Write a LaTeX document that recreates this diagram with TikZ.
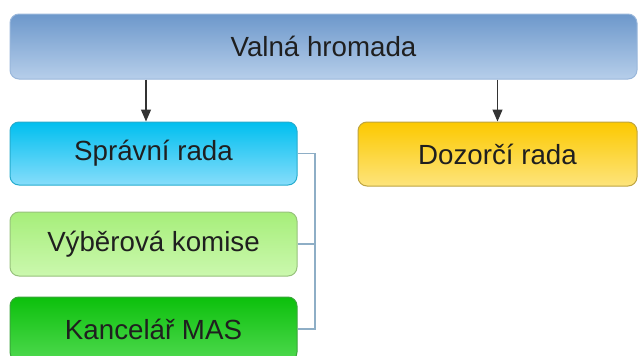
\documentclass[tikz,border=0pt]{standalone}
\usepackage{fontspec}
\setmainfont{Liberation Sans}
\usetikzlibrary{arrows.meta}

\definecolor{valnatop}{HTML}{6D98CB}
\definecolor{valnabot}{HTML}{B6CEEA}
\definecolor{spravtop}{HTML}{00BFEF}
\definecolor{spravbot}{HTML}{86DDFB}
\definecolor{dozortop}{HTML}{FCC900}
\definecolor{dozorbot}{HTML}{FDE47C}
\definecolor{vybertop}{HTML}{A6EE7A}
\definecolor{vyberbot}{HTML}{CBF8AE}
\definecolor{kanctop}{HTML}{0CC00C}
\definecolor{kancbot}{HTML}{4FD94F}
\definecolor{linkcol}{HTML}{8EAEC6}

\tikzset{
  unit/.style={rectangle, rounded corners=9pt, draw=#1, line width=1pt,
    inner sep=0pt, text=black!88, font=\fontsize{27.7}{30}\selectfont},
  link/.style={draw=linkcol, line width=1.6pt},
  down/.style={draw=black!80, line width=1.2pt, -{Triangle[length=12pt, width=10pt]}}
}

\begin{document}
\begin{tikzpicture}[x=1pt, y=-1pt]
    \useasboundingbox (0, 0) rectangle (638, 356);
    \clip (0, 0) rectangle (638, 356);
    \fill[white] (0, 0) rectangle (638, 356);
    % boxes
    \node[unit=valnatop!70!white, top color=valnatop, bottom color=valnabot,
      minimum width=627pt, minimum height=65pt] (valna) at (323.5, 46.5) {Valná hromada};
    \node[unit=spravtop!70!gray, top color=spravtop, bottom color=spravbot,
      minimum width=287pt, minimum height=63pt] (sprava) at (153.5, 153.5) {Správní rada};
    \node[unit=dozortop!50!gray, top color=dozortop, bottom color=dozorbot,
      minimum width=279pt, minimum height=64pt] (dozor) at (497.5, 154) {Dozorčí rada};
    \node[unit=vybertop!60!gray, top color=vybertop, bottom color=vyberbot,
      minimum width=287pt, minimum height=64pt] (vyber) at (153.5, 244) {Výběrová komise};
    \node[unit=kanctop!60!gray, top color=kanctop, bottom color=kancbot,
      minimum width=287pt, minimum height=64pt] (kancelar) at (153.5, 329) {Kancelář MAS};
    % arrows
    \draw[down] ([xshift=-7.5pt]sprava.north |- valna.south) -- ([xshift=-7.5pt]sprava.north);
    \draw[down] (dozor.north |- valna.south) -- (dozor.north);
    % side connector
    \coordinate (rail) at (315, 0);
    \draw[link] (sprava.east) -- (sprava.east -| rail) -- (kancelar.east -| rail) -- (kancelar.east);
    \draw[link] (vyber.east) -- (vyber.east -| rail);
\end{tikzpicture}
\end{document}
